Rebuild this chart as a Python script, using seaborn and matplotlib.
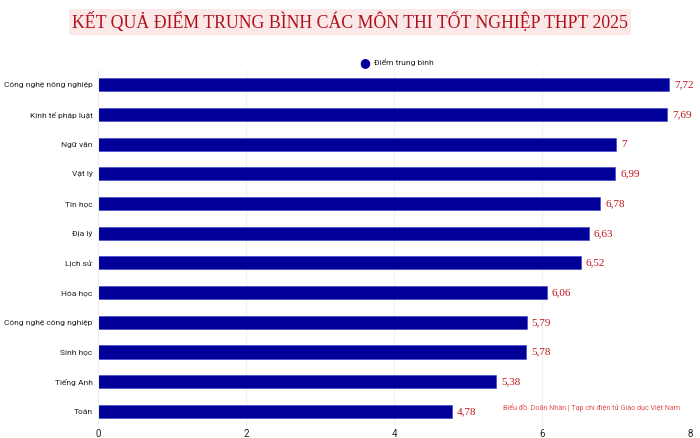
import matplotlib
matplotlib.use('Agg')
import matplotlib.pyplot as plt
import seaborn as sns
import pandas as pd

# dữ liệu
mon_thi = ['Công nghệ nông nghiệp', 'Kinh tế pháp luật', 'Ngữ văn', 'Vật lý', 'Tin học',
           'Địa lý', 'Lịch sử', 'Hóa học', 'Công nghệ công nghiệp', 'Sinh học',
           'Tiếng Anh', 'Toán']
diem_tb = [7.72, 7.69, 7.00, 6.99, 6.78, 6.63, 6.52, 6.06, 5.79, 5.78, 5.38, 4.78]
nhan_gia_tri = ['7,72', '7,69', '7', '6,99', '6,78', '6,63', '6,52', '6,06', '5,79', '5,78', '5,38', '4,78']
x_ticks = [0, 2, 4, 6, 8]

df = pd.DataFrame({'Môn': mon_thi, 'Điểm': diem_tb})

sns.set_style('white')
plt.rcParams['font.family'] = ['Roboto', 'DejaVu Sans']

fig = plt.figure(figsize=(7, 4.38), dpi=100)
ax = fig.add_axes([0.14, 0.027, 0.846, 0.813])

XANH = '#000099'
DO = '#c0141c'

sns.barplot(data=df, y='Môn', x='Điểm', color=XANH, width=0.44,
            edgecolor='#3a3ad0', linewidth=0.4, ax=ax, saturation=1)

for i, (v, t) in enumerate(zip(diem_tb, nhan_gia_tri)):
    ax.text(v + 0.07, i, t, va='center', ha='left', color=DO,
            fontsize=8, family=['Liberation Serif'])

ax.set_xlim(0, 8)
ax.set_xticks(x_ticks)
ax.set_xticklabels([str(x) for x in x_ticks], fontsize=7, color='#222222')
ax.tick_params(axis='y', labelsize=6.05, colors='#222222', length=0, pad=4)
ax.tick_params(axis='x', length=0, pad=2)
ax.xaxis.grid(True, color='#f0f0f0', linewidth=0.8)
ax.set_axisbelow(True)
ax.set_xlabel('')
ax.set_ylabel('')
for s in ['top', 'right', 'bottom']:
    ax.spines[s].set_visible(False)
ax.spines['left'].set_color('#eeeeee')

# tiêu đề
fig.text(0.5, 0.95, 'KẾT QUẢ ĐIỂM TRUNG BÌNH CÁC MÔN THI TỐT NGHIỆP THPT 2025',
         ha='center', va='center', fontsize=12.8, color='#b01018',
         family=['Liberation Serif'],
         bbox=dict(boxstyle='square,pad=0.15', facecolor='#fbe9e9', edgecolor='none'))

# chú thích
fig.text(0.521, 0.858, '●', ha='center', va='center', fontsize=9, color=XANH,
         family=['DejaVu Sans'])
fig.text(0.535, 0.858, 'Điểm trung bình', ha='left', va='center', fontsize=6,
         color='#222222')

# nguồn
fig.text(0.972, 0.069, 'Biểu đồ: Doãn Nhân | Tạp chí điện tử Giáo dục Việt Nam',
         ha='right', va='center', fontsize=5.1, color='#e05050')

fig.savefig('out.png', dpi=100)
